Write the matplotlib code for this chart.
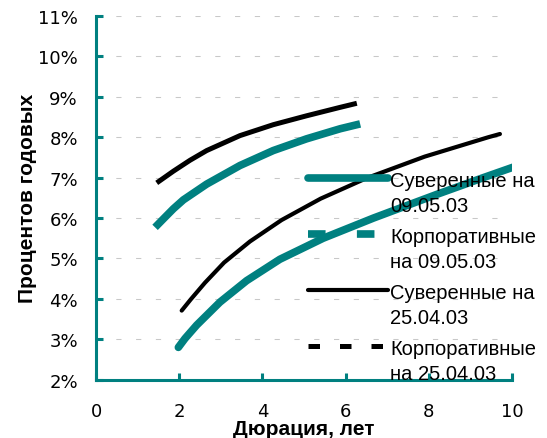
import matplotlib.pyplot as plt
from matplotlib.lines import Line2D
from matplotlib.ticker import PercentFormatter

# yield curves, duration in years vs yield in % p.a.
dur_sov_0905 = [1.98, 2.14, 2.42, 2.98, 3.62, 4.42, 5.46, 6.67, 7.5, 8.23, 9.31, 10.03]
yld_sov_0905 = [2.80, 3.02, 3.35, 3.92, 4.45, 4.98, 5.50, 6.00, 6.32, 6.60, 7.00, 7.26]

dur_corp_0905 = [1.42, 1.62, 1.86, 2.10, 2.66, 3.46, 4.26, 5.06, 5.87, 6.35]
yld_corp_0905 = [5.77, 5.98, 6.23, 6.45, 6.84, 7.30, 7.67, 7.96, 8.21, 8.33]

dur_sov_2504 = [2.06, 2.28, 2.62, 3.08, 3.70, 4.46, 5.40, 6.51, 7.90, 9.43, 9.71]
yld_sov_2504 = [3.71, 3.99, 4.40, 4.90, 5.42, 5.95, 6.48, 6.99, 7.52, 8.00, 8.08]

dur_corp_2504 = [1.46, 1.86, 2.26, 2.66, 3.46, 4.26, 5.06, 5.87, 6.27]
yld_corp_2504 = [6.87, 7.16, 7.43, 7.67, 8.04, 8.31, 8.53, 8.74, 8.84]

labels = ["Суверенные на\n09.05.03", "Корпоративные\nна 09.05.03",
          "Суверенные на\n25.04.03", "Корпоративные\nна 25.04.03"]

TEAL = "#008080"
W, H = 547, 439

fig = plt.figure(figsize=(W / 100, H / 100), dpi=100)
ax = fig.add_axes([96 / W, 1 - 380.7 / H, 416 / W, 363.7 / H])

ax.plot(dur_sov_0905, yld_sov_0905, color=TEAL, lw=5.5,
        solid_capstyle="round", solid_joinstyle="round")
ax.plot(dur_corp_0905, yld_corp_0905, color=TEAL, lw=5.5,
        solid_capstyle="butt", solid_joinstyle="round")
ax.plot(dur_sov_2504, yld_sov_2504, color="black", lw=3,
        solid_capstyle="round", solid_joinstyle="round")
ax.plot(dur_corp_2504, yld_corp_2504, color="black", lw=3.6,
        solid_capstyle="butt", solid_joinstyle="round")

ax.set_xlim(0, 10)
ax.set_ylim(2, 11)
ax.set_xticks([0, 2, 4, 6, 8, 10])
ax.set_yticks(range(2, 12))
ax.yaxis.set_major_formatter(PercentFormatter(decimals=0))

for side in ("top", "right"):
    ax.spines[side].set_visible(False)
for side in ("left", "bottom"):
    ax.spines[side].set_color(TEAL)
    ax.spines[side].set_linewidth(2.2)

ax.tick_params(direction="in", length=5, width=2.2, color=TEAL, labelsize=13)
ax.tick_params(axis="x", pad=16)
ax.tick_params(axis="y", pad=13)

ax.yaxis.grid(True, color="#c8c8c8", lw=0.75, dashes=(5, 14))
ax.set_axisbelow(True)

ax.set_xlabel("Дюрация, лет", fontsize=15, fontweight="bold", family="Liberation Sans")
ax.set_ylabel("Процентов годовых", fontsize=15, fontweight="bold", family="Liberation Sans")
ax.xaxis.label.set_va("center")
ax.yaxis.label.set_va("center")
ax.xaxis.set_label_coords(0.5, (380.7 - 430) / 363.7)
ax.yaxis.set_label_coords((28 - 96) / 416, 0.5)

# legend drawn by hand: handle next to the first line of each label
styles = [
    dict(color=TEAL, lw=5.5, solid_capstyle="round"),
    dict(color=TEAL, lw=5.5, dashes=(2.3, 4.1), dash_capstyle="butt"),
    dict(color="black", lw=3, solid_capstyle="round"),
    dict(color="black", lw=3.6, dashes=(2.3, 4.0), dash_capstyle="butt"),
]
for i, (lab, st) in enumerate(zip(labels, styles)):
    y = 179 + 56 * i
    fig.add_artist(Line2D([308 / W, 388 / W], [1 - y / H, 1 - y / H],
                          transform=fig.transFigure, **st))
    fig.text(390 / W, 1 - (y - 7) / H, lab, ha="left", va="top",
             fontsize=14.5, family="Liberation Sans", linespacing=1.4)

fig.savefig("out.png", dpi=100)
